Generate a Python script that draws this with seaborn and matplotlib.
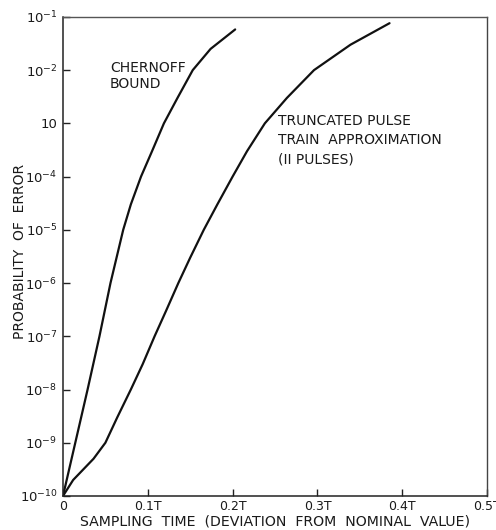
import matplotlib
matplotlib.use("Agg")
import matplotlib.pyplot as plt
import seaborn as sns
import pandas as pd

# sampling time offset in units of T, probability of error
chernoff_x = [0, 0.0145, 0.029, 0.043, 0.056, 0.071, 0.080, 0.092, 0.105, 0.119,
              0.135, 0.153, 0.174, 0.203]
chernoff_p = [1e-10, 1e-9, 1e-8, 1e-7, 1e-6, 1e-5, 3e-5, 1e-4, 3e-4, 1e-3,
              3e-3, 1e-2, 2.5e-2, 5.8e-2]

pulse_x = [0, 0.012, 0.036, 0.050, 0.064, 0.080, 0.094, 0.108, 0.1215, 0.136,
           0.150, 0.166, 0.182, 0.200, 0.217, 0.238, 0.264, 0.296, 0.339, 0.385]
pulse_p = [1e-10, 2e-10, 5e-10, 1e-9, 3e-9, 1e-8, 3e-8, 1e-7, 3e-7, 1e-6,
           3e-6, 1e-5, 3e-5, 1e-4, 3e-4, 1e-3, 3e-3, 1e-2, 3e-2, 7.6e-2]

x_ticks = [0, 0.1, 0.2, 0.3, 0.4, 0.5]
x_labels = ["0", "0.1T", "0.2T", "0.3T", "0.4T", "0.5T"]
y_ticks = [1e-10, 1e-9, 1e-8, 1e-7, 1e-6, 1e-5, 1e-4, 1e-3, 1e-2, 1e-1]
y_labels = ["$10^{-10}$", "$10^{-9}$", "$10^{-8}$", "$10^{-7}$", "$10^{-6}$",
            "$10^{-5}$", "$10^{-4}$", "10", "$10^{-2}$", "$10^{-1}$"]

chernoff = pd.DataFrame({"t": chernoff_x, "p": chernoff_p})
pulse = pd.DataFrame({"t": pulse_x, "p": pulse_p})

sns.set_style("ticks")
plt.rcParams["font.family"] = ["DejaVu Sans"]
plt.rcParams["mathtext.default"] = "regular"

fig = plt.figure(figsize=(4.96, 5.30), dpi=100)
ax = fig.add_axes([0.127, 0.0642, 0.855, 0.904])

sns.lineplot(data=chernoff, x="t", y="p", ax=ax, color="#111111", linewidth=1.6)
sns.lineplot(data=pulse, x="t", y="p", ax=ax, color="#111111", linewidth=1.6)

ax.set_yscale("log")
ax.set_xlim(0, 0.5)
ax.set_ylim(1e-10, 1e-1)
ax.set_xticks(x_ticks)
ax.set_xticklabels(x_labels)
ax.set_yticks(y_ticks)
ax.set_yticklabels(y_labels)
ax.minorticks_off()
ax.tick_params(axis="both", direction="in", length=5, width=1, colors="#222222",
               labelsize=9, labelcolor="#1a1a1a")
ax.tick_params(axis="y", pad=4, labelsize=9.5)
ax.tick_params(axis="x", pad=3)

for side in ["left", "bottom"]:
    ax.spines[side].set_color("#222222")
    ax.spines[side].set_linewidth(1.1)
ax.spines["top"].set_visible(True)
ax.spines["right"].set_visible(True)
ax.spines["top"].set_color("#555555")
ax.spines["right"].set_color("#444444")
ax.spines["top"].set_linewidth(1.0)
ax.spines["right"].set_linewidth(1.0)

ax.set_xlabel("SAMPLING  TIME  (DEVIATION  FROM  NOMINAL  VALUE)", fontsize=10.2, color="#1a1a1a")
ax.xaxis.set_label_coords(0.5, -0.039)
ax.set_ylabel("PROBABILITY  OF  ERROR", fontsize=10, color="#1a1a1a")
ax.yaxis.set_label_coords(-0.084, 0.51)

ax.text(0.111, 0.908, "CHERNOFF\nBOUND", transform=ax.transAxes, fontsize=10,
        va="top", ha="left", linespacing=1.2, color="#1a1a1a")
ax.text(0.507, 0.797, "TRUNCATED PULSE\nTRAIN  APPROXIMATION\n(II PULSES)", transform=ax.transAxes,
        fontsize=10, va="top", ha="left", linespacing=1.45, color="#1a1a1a")

plt.savefig("out.png", dpi=100)
